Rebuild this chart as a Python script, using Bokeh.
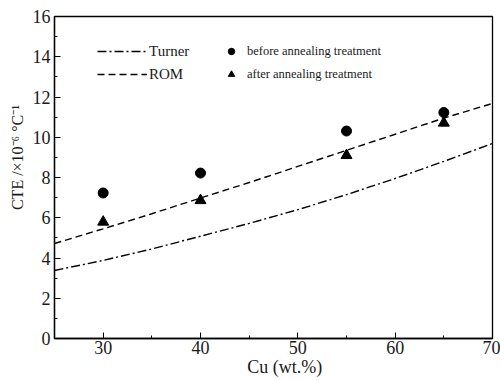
from bokeh.plotting import figure
from bokeh.models import Legend, LegendItem, FixedTicker, Range1d
from bokeh.embed import file_html
from bokeh.resources import INLINE

# model curves
cu_curve = [25, 30, 35, 40, 45, 50, 55, 60, 65, 70]
rom = [4.72, 5.45, 6.2, 6.98, 7.75, 8.55, 9.35, 10.15, 10.95, 11.68]
turner = [3.38, 3.88, 4.45, 5.08, 5.72, 6.4, 7.15, 7.95, 8.8, 9.69]

# measured points
cu_exp = [30, 40, 55, 65]
before = [7.23, 8.22, 10.31, 11.23]
after = [5.79, 6.86, 9.1, 10.71]

x_ticks = [30, 40, 50, 60, 70]
x_minor = [35, 45, 55, 65]
y_ticks = [0, 2, 4, 6, 8, 10, 12, 14, 16]
y_minor = [1, 3, 5, 7, 9, 11, 13, 15]

FONT = "Liberation Serif"
NB = "\u00a0"

p = figure(width=500, height=380, output_backend="svg", toolbar_location=None,
           x_range=Range1d(25, 70), y_range=Range1d(0, 16),
           min_border_left=54, min_border_right=8, min_border_top=16,
           min_border_bottom=42)
p.xgrid.visible = False
p.ygrid.visible = False
p.outline_line_color = "black"
p.outline_line_width = 1.3
p.background_fill_color = "white"
p.border_fill_color = "white"

p.xaxis.ticker = FixedTicker(ticks=x_ticks, minor_ticks=x_minor)
p.yaxis.ticker = FixedTicker(ticks=y_ticks, minor_ticks=y_minor)
for ax in (p.xaxis[0], p.yaxis[0]):
    ax.major_tick_in = 6
    ax.major_tick_out = 0
    ax.minor_tick_in = 3
    ax.minor_tick_out = 0
    ax.axis_line_color = "black"
    ax.axis_line_width = 1.3
    ax.major_tick_line_color = "black"
    ax.minor_tick_line_color = "black"
    ax.major_label_text_font = FONT
    ax.major_label_text_font_size = "18px"
    ax.major_label_text_color = "#1a1a1a"
    ax.axis_label_text_font = FONT
    ax.axis_label_text_font_style = "normal"
    ax.axis_label_text_color = "#1a1a1a"

p.xaxis.axis_label = NB * 5 + "Cu (wt.%)"
p.xaxis.axis_label_text_font_size = "18px"
p.xaxis.major_label_standoff = 2
p.xaxis.axis_label_standoff = 0

p.yaxis.axis_label = NB * 10 + "CTE /×10⁻⁶ °C⁻¹"
p.yaxis.axis_label_text_font_size = "16px"
p.yaxis.major_label_standoff = 4
p.yaxis.axis_label_standoff = 4

r_turner = p.line(cu_curve, turner, line_color="black", line_width=1.4,
                  line_dash="9 3 2 3")
r_rom = p.line(cu_curve, rom, line_color="black", line_width=1.4,
               line_dash="7 4")
r_before = p.scatter(cu_exp, before, marker="circle", size=10,
                     fill_color="black", line_color="black")
r_after = p.scatter(cu_exp, after, marker="triangle", size=11,
                    fill_color="black", line_color="black")

leg1 = Legend(items=[LegendItem(label="Turner", renderers=[r_turner]),
                     LegendItem(label="ROM", renderers=[r_rom])],
              location=(43, 254), padding=0, margin=0, spacing=3,
              glyph_width=50, glyph_height=20, label_height=20,
              label_standoff=2, border_line_color=None,
              background_fill_alpha=0,
              label_text_font=FONT, label_text_font_size="15px",
              label_text_color="#1a1a1a")
leg2 = Legend(items=[LegendItem(label="before annealing treatment", renderers=[r_before]),
                     LegendItem(label="after annealing treatment", renderers=[r_after])],
              location=(169, 254), padding=0, margin=0, spacing=3,
              glyph_width=16, glyph_height=20, label_height=20,
              label_standoff=8, border_line_color=None,
              background_fill_alpha=0,
              label_text_font=FONT, label_text_font_size="12.5px",
              label_text_color="#1a1a1a")
p.add_layout(leg1, "center")
p.add_layout(leg2, "center")

open("out.html", "w").write(file_html(p, INLINE))
